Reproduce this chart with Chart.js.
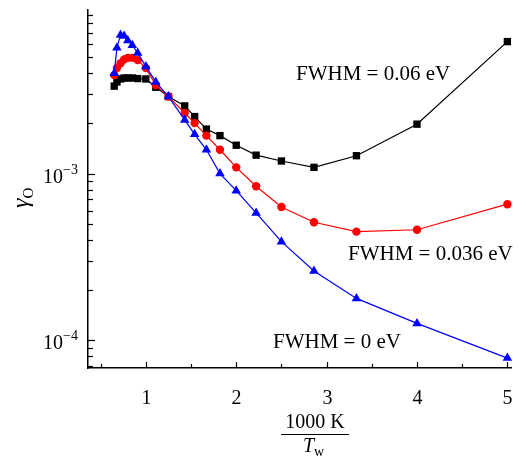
<!DOCTYPE html>
<html>
<head>
<meta charset="utf-8">
<script src="https://cdn.jsdelivr.net/npm/chart.js@4"></script>
<style>
  html, body { margin: 0; padding: 0; background: #fff; }
  canvas { display: block; }
</style>
</head>
<body>
<canvas id="out" width="526" height="458"></canvas>
<script>
// 1000 K / Tw
const xValues = [0.65, 0.68, 0.72, 0.76, 0.8, 0.85, 0.91, 1.0, 1.11, 1.25, 1.43, 1.54, 1.67, 1.82, 2.0, 2.22, 2.5, 2.86, 3.33, 4.0, 5.0];

// gamma_O for each FWHM
const fwhm006 = [3.35e-3, 3.55e-3, 3.7e-3, 3.75e-3, 3.75e-3, 3.75e-3, 3.72e-3, 3.7e-3, 3.3e-3, 2.9e-3, 2.55e-3, 2.2e-3, 1.85e-3, 1.69e-3, 1.48e-3, 1.29e-3, 1.19e-3, 1.09e-3, 1.28e-3, 1.98e-3, 6.2e-3];
const fwhm0036 = [3.9e-3, 4.3e-3, 4.6e-3, 4.85e-3, 4.95e-3, 4.95e-3, 4.8e-3, 4.3e-3, 3.4e-3, 2.9e-3, 2.31e-3, 2.01e-3, 1.69e-3, 1.39e-3, 1.09e-3, 8.4e-4, 6.3e-4, 5.1e-4, 4.48e-4, 4.6e-4, 6.55e-4];
const fwhm0 = [4.0e-3, 5.7e-3, 6.8e-3, 6.7e-3, 6.3e-3, 5.9e-3, 5.3e-3, 4.4e-3, 3.55e-3, 2.9e-3, 2.1e-3, 1.72e-3, 1.39e-3, 1.0e-3, 7.9e-4, 5.8e-4, 3.9e-4, 2.6e-4, 1.78e-4, 1.26e-4, 7.8e-5];

const xTicks = [0.5, 1, 1.5, 2, 2.5, 3, 3.5, 4, 4.5, 5];
const yTicks = [7e-5, 8e-5, 9e-5, 1e-4, 2e-4, 3e-4, 4e-4, 5e-4, 6e-4, 7e-4, 8e-4, 9e-4, 1e-3, 2e-3, 3e-3, 4e-3, 5e-3, 6e-3, 7e-3, 8e-3, 9e-3];
const yMajor = [1e-4, 1e-3];

const notes = [
  { text: "FWHM = 0.06 eV", x: 296, y: 80 },
  { text: "FWHM = 0.036 eV", x: 348, y: 260 },
  { text: "FWHM = 0 eV", x: 273, y: 348 }
];

const serif = "'Liberation Serif', 'Times New Roman', serif";

function pts(ys) {
  return ys.map((v, i) => ({ x: xValues[i], y: v }));
}

// ticks drawn inward, labels with superscripts, axis title as fraction
const decor = {
  id: "decor",
  afterDraw(chart) {
    const ctx = chart.ctx;
    const xs = chart.scales.x;
    const ys = chart.scales.y;
    const area = chart.chartArea;
    ctx.save();
    ctx.strokeStyle = "#000";
    ctx.fillStyle = "#000";
    ctx.lineWidth = 1.2;

    xTicks.forEach(t => {
      const px = Math.round(xs.getPixelForValue(t)) + 0.5;
      const len = Number.isInteger(t) ? 6 : 4;
      ctx.beginPath();
      ctx.moveTo(px, area.bottom);
      ctx.lineTo(px, area.bottom - len);
      ctx.stroke();
      if (Number.isInteger(t)) {
        ctx.font = "20px " + serif;
        ctx.textAlign = "center";
        ctx.textBaseline = "alphabetic";
        ctx.fillText(String(t), px, 404);
      }
    });

    yTicks.forEach(t => {
      const py = Math.round(ys.getPixelForValue(t)) + 0.5;
      const major = yMajor.includes(t);
      ctx.beginPath();
      ctx.moveTo(area.left, py);
      ctx.lineTo(area.left + (major ? 7 : 5), py);
      ctx.stroke();
      if (major) {
        const exp = "\u2212" + Math.round(-Math.log10(t));
        ctx.font = "14px " + serif;
        const ew = ctx.measureText(exp).width;
        ctx.textAlign = "left";
        ctx.textBaseline = "alphabetic";
        ctx.fillText(exp, area.left - 10 - ew, py - 1);
        ctx.font = "20px " + serif;
        const bw = ctx.measureText("10").width;
        ctx.fillText("10", area.left - 10 - ew - bw, py + 8);
      }
    });

    // x axis title: 1000 K / T_w
    const cx = (xs.getPixelForValue(2.9) + xs.getPixelForValue(2.9)) / 2;
    ctx.font = "20px " + serif;
    ctx.textAlign = "center";
    ctx.fillText("1000 K", 315, 428);
    ctx.beginPath();
    ctx.moveTo(281, 434.5);
    ctx.lineTo(349, 434.5);
    ctx.stroke();
    ctx.font = "italic 20px " + serif;
    ctx.textAlign = "left";
    const tw = ctx.measureText("T").width;
    ctx.fillText("T", 303, 452);
    ctx.font = "14px " + serif;
    ctx.fillText("w", 303 + tw, 456);

    // y axis title: gamma_O
    ctx.save();
    ctx.translate(28, 208);
    ctx.rotate(-Math.PI / 2);
    ctx.font = "italic 24px " + serif;
    const gw = ctx.measureText("\u03b3").width;
    ctx.fillText("\u03b3", 0, 0);
    ctx.font = "15px " + serif;
    ctx.fillText("O", gw, 5);
    ctx.restore();

    // curve labels
    ctx.font = "21px " + serif;
    ctx.textAlign = "left";
    notes.forEach(n => ctx.fillText(n.text, n.x, n.y));
    ctx.restore();
  }
};

const canvasCtx = document.getElementById("out").getContext("2d");

new Chart(canvasCtx, {
  type: "line",
  data: {
    datasets: [
      {
        label: "FWHM = 0 eV",
        data: pts(fwhm0),
        borderColor: "#0000ff",
        backgroundColor: "#0000ff",
        borderWidth: 1.2,
        pointStyle: "triangle",
        pointRadius: 5.5,
        pointBorderWidth: 0
      },
      {
        label: "FWHM = 0.036 eV",
        data: pts(fwhm0036),
        borderColor: "#ff0000",
        backgroundColor: "#ff0000",
        borderWidth: 1.2,
        pointStyle: "circle",
        pointRadius: 4.2,
        pointBorderWidth: 0
      },
      {
        label: "FWHM = 0.06 eV",
        data: pts(fwhm006),
        borderColor: "#000000",
        backgroundColor: "#000000",
        borderWidth: 1.2,
        pointStyle: "rect",
        pointRadius: 5.2,
        pointBorderWidth: 0
      }
    ]
  },
  options: {
    responsive: false,
    animation: false,
    clip: false,
    layout: { padding: { top: 10, right: 15, left: 0, bottom: 0 } },
    elements: { line: { tension: 0 } },
    plugins: {
      legend: { display: false },
      tooltip: { enabled: false }
    },
    scales: {
      x: {
        type: "linear",
        min: 0.36,
        max: 5.04,
        grid: { display: false, drawTicks: false },
        border: { color: "#000", width: 1.5 },
        ticks: { display: false },
        afterFit(scale) { scale.height = 90; }
      },
      y: {
        type: "logarithmic",
        min: 6.8e-5,
        max: 9.6e-3,
        grid: { display: false, drawTicks: false },
        border: { color: "#000", width: 1.5 },
        ticks: { display: false },
        afterFit(scale) { scale.width = 88; }
      }
    }
  },
  plugins: [decor]
});
</script>
</body>
</html>
